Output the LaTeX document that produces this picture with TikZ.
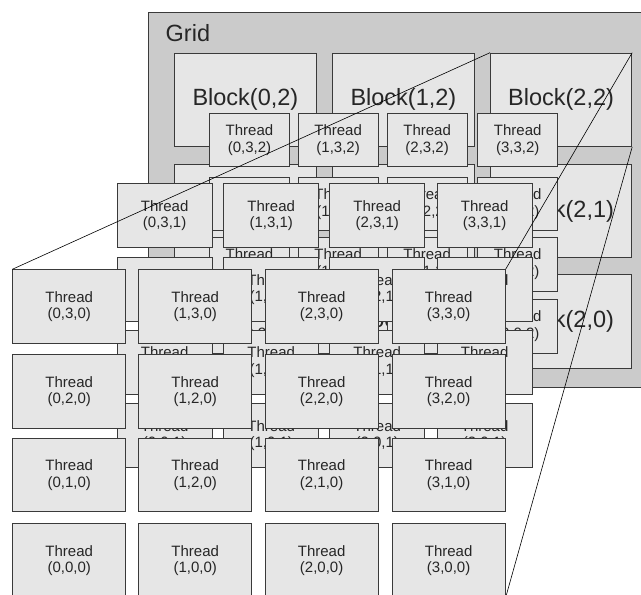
\documentclass[tikz,border=0pt]{standalone}
\usepackage{fontspec}
\setmainfont{Liberation Sans}
\definecolor{gridfill}{HTML}{CBCBCB}
\definecolor{boxfill}{HTML}{E6E6E6}
\definecolor{edge}{HTML}{3A3A3A}
\definecolor{ink}{HTML}{262626}
\begin{document}
\begin{tikzpicture}[x=1pt,y=-1pt,
  gridbox/.style={draw=edge, fill=gridfill, line width=0.9pt, anchor=north west, inner sep=0pt},
  blockbox/.style={draw=edge, fill=boxfill, line width=0.9pt, anchor=north west, inner sep=0pt,
    minimum width=141.3pt, minimum height=93.3pt, text=ink, font=\fontsize{23.5}{26}\selectfont},
  thread/.style={draw=edge, fill=boxfill, line width=0.9pt, anchor=north west, inner sep=0pt,
    align=center, text=ink, font=\fontsize{15}{16.7}\selectfont},
  lay2/.style={thread, minimum width=80pt, minimum height=53.3pt},
  lay1/.style={thread, minimum width=95pt, minimum height=63.5pt},
  lay0/.style={thread, minimum width=113pt, minimum height=73.5pt},
  zoomline/.style={draw=black, line width=0.6pt},
  label/.style={anchor=base west, inner sep=0pt, text=ink, font=\fontsize{23.5}{26}\selectfont}
]
\useasboundingbox (0,0) rectangle (641,595);
\clip (0,0) rectangle (641,595);
\fill[white] (0,0) rectangle (641,595);
% grid
\node[gridbox, minimum width=520pt, minimum height=374.7pt] (grid) at (148.3,12.3) {};
\node[label] (gridlabel) at (165.5,41.7) {Grid};
% blocks
\foreach \i/\x in {0/174.3,1/332.3,2/490}
  \foreach \j/\y in {2/52.7,1/164,0/274.3}
    \node[blockbox] (b\i\j) at (\x,\y) {Block(\i,\j)};
% thread layer z=2
\foreach \i/\x in {0/209,1/297.7,2/386.7,3/477.3}
  \foreach \j/\y in {3/112.9,2/176.7,1/237.3,0/299.3}
    \node[lay2] (t\i\j2) at (\x,\y) {Thread\\(\i,\j,2)};
% thread layer z=1
\foreach \i/\x in {0/116.7,1/223.3,2/329.3,3/436.7}
  \foreach \j/\y in {3/183.3,2/257.3,1/330,0/403.3}
    \node[lay1] (t\i\j1) at (\x,\y) {Thread\\(\i,\j,1)};
% thread layer z=0 (the reference prints (1,2,0) on the box at column 1, row 1)
\foreach \i/\x in {0/12.3,1/138.3,2/264.7,3/391.7}
  \foreach \j/\y in {3/269.3,2/354.3,1/437.7,0/523.3}
    \node[lay0] (t\i\j0) at (\x,\y) {Thread\\(\i,\ifnum\i\j=11 2\else\j\fi,0)};
% zoom lines
\draw[zoomline] (b22.north west) -- (t030.north west);
\draw[zoomline] (b22.north east) -- (t330.north east);
\draw[zoomline] (b22.south east) -- (t300.south east);
\end{tikzpicture}
\end{document}
